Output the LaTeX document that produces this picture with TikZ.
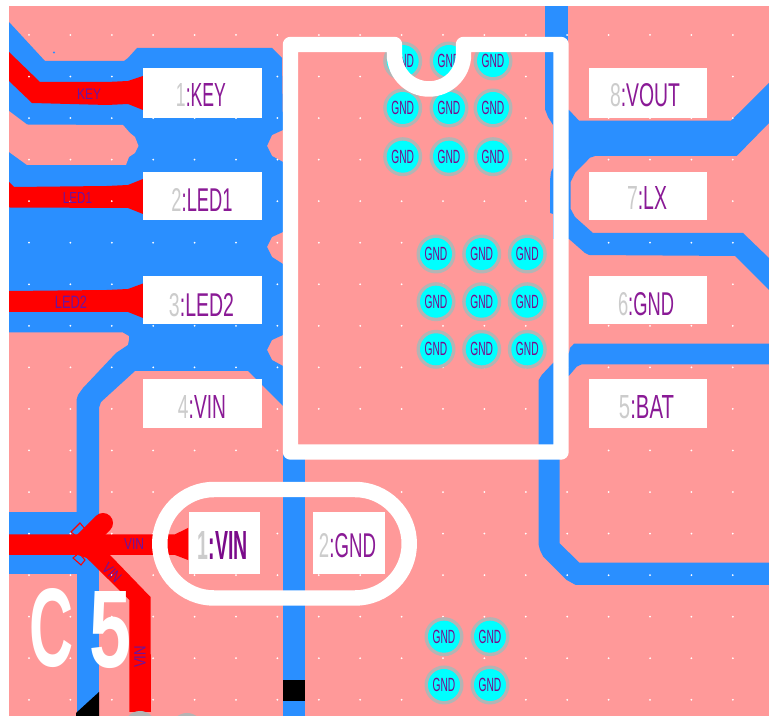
\documentclass[tikz,border=0pt]{standalone}
\usepackage{graphicx}
\usepackage{fontspec}
\setmainfont{Liberation Sans}
\definecolor{pcbpink}{HTML}{FF9999}
\definecolor{pcbblue}{HTML}{2A8FFF}
\definecolor{pcbgrey}{HTML}{B4B4B4}
\definecolor{pcbcyan}{HTML}{00FFFF}
\definecolor{netpurple}{HTML}{8A1A96}
\definecolor{viapurple}{HTML}{7A0A8A}
\definecolor{tracepurple}{HTML}{6A14A0}
\definecolor{digitgrey}{HTML}{CCCCCC}
% width and height in reference pixels (1px = .75pt)
\newcommand{\padlabel}[5]{%
  \node[inner sep=0pt,anchor=center] (#1) at (#2) {\resizebox{\dimexpr #3pt*3/4\relax}{\dimexpr #4pt*3/4\relax}{#5}};}
\newcommand{\pinlabel}[2]{\textcolor{digitgrey}{#1}\textcolor{netpurple}{:#2}}
\newcommand{\onevia}[2]{%
  \fill[pcbgrey] (#1,#2) circle (19.5);
  \fill[pcbcyan] (#1,#2) circle (16);
  \node[inner sep=0pt] at (#1,#2) {\resizebox{17pt}{10pt}{\textcolor{viapurple}{GND}}};}
\tikzset{
  px/.style={x=0.75pt,y=-0.75pt},
  copper/.style={fill=pcbblue},
  tracefill/.style={fill=red},
  silk/.style={draw=white,line width=11.6pt,line join=round,line cap=round},
  padbox/.style={fill=white,draw=none}
}
\begin{document}
\begin{tikzpicture}[px]
\useasboundingbox (0,0) rectangle (769,716);
\fill[white] (0,0) rectangle (769,716);
\begin{scope}
\clip (9,6) rectangle (769,716);
\fill[pcbpink] (9,6) rectangle (769,716);
% left copper pour
\fill[copper] (9,22) -- (45,61) -- (124,61) -- (128,58) -- (137,48) -- (272,48) -- (282,58)
  -- (283,130) -- (272,135) -- (267,146) -- (272,156) -- (283,162) -- (283,232) -- (272,237)
  -- (267,247) -- (272,257) -- (283,264) -- (283,335) -- (272,340) -- (267,350) -- (272,360)
  -- (283,366) -- (283,406) -- (248,371) -- (135,371) -- (101,402) -- (99,408) -- (99,512)
  -- (76.5,512) -- (76.5,400) -- (78,395) -- (83,388) -- (116,353) -- (128,345) -- (129,340)
  -- (129,336) -- (123,332.5) -- (9,332.5) -- cycle;
% pink island between traces
\fill[pcbpink] (9,111) -- (27,124.5) -- (123,125) -- (130,133) -- (135,137) -- (138.5,146)
  -- (135,153) -- (129,157) -- (126,165) -- (27,165) -- (9,152) -- cycle;
% VIN net copper
\fill[copper] (9,512) -- (76.5,512) -- (76.5,574) -- (9,574) -- cycle;
\fill[copper] (76.5,500) rectangle (99,716);
\fill[black] (76,713) -- (99,692) -- (99,716) -- (76,716) -- cycle;
% centre vertical copper
\fill[copper] (282.7,450) rectangle (305,716);
\fill[black] (282.7,680) rectangle (305,700.7);
% right top copper
\fill[copper] (545.3,6) rectangle (567.7,110);
\fill[copper] (545.3,52) -- (553,52) -- (553,125) -- (548,117) -- (545.3,110) -- cycle;
\fill[copper] (553,110) -- (569,110) -- (579,120.7) -- (731,120.7) -- (769,83) -- (769,123)
  -- (736.7,156) -- (595,156) -- (590,157.7) -- (575,173) -- (570.7,181.7) -- (570.7,209)
  -- (575,217) -- (593,233) -- (743,233) -- (769,258) -- (769,290) -- (735,256) -- (589,255)
  -- (585,253) -- (569,239) -- (553,239) -- cycle;
\fill[copper] (553,168) -- (551,172) -- (550,180) -- (550,213) -- (553,214) -- cycle;
% right lower copper
\fill[copper] (553,363) -- (569,353) -- (570,348) -- (574,343.7) -- (769,343.7) -- (769,364.3)
  -- (581.7,364.3) -- (576.7,366.7) -- (569,375.7) -- (559.7,380) -- (559.7,543.3)
  -- (579.3,562.7) -- (769,562.7) -- (769,585) -- (575.7,585) -- (566.7,580) -- (543.3,556.7)
  -- (540,550) -- (538.7,545) -- (538.7,380) -- (541.7,375) -- cycle;
% red traces
\fill[tracefill] (9,52) -- (40,82) -- (107,82) -- (128,81) -- (143,76) -- (143,110) -- (128,104)
  -- (107,105) -- (32,103) -- (9,81) -- cycle;
\fill[tracefill] (9,182) -- (14,187) -- (107,186) -- (128,185) -- (143,179) -- (143,214)
  -- (128,208) -- (9,207.5) -- cycle;
\fill[tracefill] (9,291) -- (107,290) -- (128,289) -- (143,283.5) -- (143,318) -- (128,312)
  -- (9,312) -- cycle;
% small outlined pad corners at the VIN junction
\draw[red,fill=pcbblue,line width=.8pt] (80,523) -- (86,530) -- (77,537) -- (71,532) -- cycle;
\draw[red,fill=pcbblue,line width=.8pt] (73,558) -- (79,553) -- (85,560) -- (81,565) -- cycle;
\fill[tracefill] (9,534.3) -- (153,534.3) -- (153,555) -- (110,555) -- (150.5,597) -- (151,712)
  -- (129.3,712) -- (129.3,600) -- (86.7,558) -- (78,555) -- (9,555) -- cycle;
\draw[red,line width=15pt,line cap=round] (83,543) -- (103,523);
\fill[tracefill] (165,534.3) -- (175,534.3) -- (188,528) -- (188,560) -- (175,555) -- (165,555) -- cycle;
% bottom via edges
\fill[pcbgrey] (140,727) circle (16);
\fill[pcbgrey] (187,729) circle (16);
% grid dots
\foreach \nx in {0,...,17}{\foreach \ny in {0,...,16}{
  \fill[white] ({29+41.4*\nx},{35+41.55*\ny}) circle (1);}}
\fill[pcbblue] (54,52.5) circle (1.2);
% vias
\foreach \vy in {61,108,156.7}{\foreach \vx in {402.7,449,493}{\onevia{\vx}{\vy}}}
\foreach \vy in {254,301.7,349.3}{\foreach \vx in {436,481.7,527.3}{\onevia{\vx}{\vy}}}
\foreach \vy in {636.7,685}{\foreach \vx in {444,490}{\onevia{\vx}{\vy}}}
% pads
\foreach \py/\qy in {68.5/118,172/220.5,276.5/324.3,379/428}{
  \fill[padbox] (143,\py) rectangle (262,\qy);
  \fill[padbox] (588.7,\py) rectangle (706.7,\qy);}
\fill[padbox] (188.5,512) rectangle (260,574);
\fill[padbox] (313,512) rectangle (385,574);
% package outline
\draw[silk] (394.5,44.5) -- (290.5,44.5) -- (290.5,452) -- (561,452) -- (561,44.5) -- (463.5,44.5)
  -- (463.5,54.5) arc[start angle=0,end angle=180,radius=34.5] -- cycle;
% capacitor outline
\draw[silk] (214,489.5) -- (355,489.5) arc[start angle=-90,end angle=90,radius=54.25]
  -- (214,598) arc[start angle=90,end angle=270,radius=54.25] -- cycle;
\end{scope}
% pin labels
\padlabel{p1}{201,95}{50}{23}{\pinlabel{1}{KEY}}
\padlabel{p2}{202,200}{61}{23}{\pinlabel{2}{LED1}}
\padlabel{p3}{201.5,305}{65}{23}{\pinlabel{3}{LED2}}
\padlabel{p4}{202,407}{48}{23}{\pinlabel{4}{VIN}}
\padlabel{p8}{645,95}{70}{23}{\pinlabel{8}{VOUT}}
\padlabel{p7}{647,198.5}{40}{23}{\pinlabel{7}{LX}}
\padlabel{p6}{646,304}{56}{23}{\pinlabel{6}{GND}}
\padlabel{p5}{646.5,407}{55}{23}{\pinlabel{5}{BAT}}
\padlabel{c1}{223,546}{50}{28}{\textbf{\textcolor{digitgrey}{1}\textcolor{viapurple}{:VIN}}}
\padlabel{c2}{347.5,546}{57}{24}{\pinlabel{2}{GND}}
% net labels on traces
\padlabel{nkey}{89,94.5}{24}{10.5}{\textcolor{tracepurple}{KEY}}
\padlabel{nled1}{77.5,198.5}{29}{11}{\textcolor{tracepurple}{LED1}}
\padlabel{nled2}{71,302.5}{32}{12.5}{\textcolor{tracepurple}{LED2}}
\padlabel{nvin}{134,544.5}{20}{11}{\textcolor{tracepurple}{VIN}}
\node[inner sep=0pt,rotate=-45] (nvind) at (112,573) {\resizebox{15pt}{8pt}{\textcolor{tracepurple}{VIN}}};
\node[inner sep=0pt,rotate=90] (nvinv) at (140,657) {\resizebox{16.5pt}{8.5pt}{\textcolor{tracepurple}{VIN}}};
% reference designator
\padlabel{refc}{52,628.5}{44}{78}{\textbf{\textcolor{white}{C}}}
\padlabel{ref5}{111,630}{42}{76}{\textbf{\textcolor{white}{5}}}
\end{tikzpicture}
\end{document}
